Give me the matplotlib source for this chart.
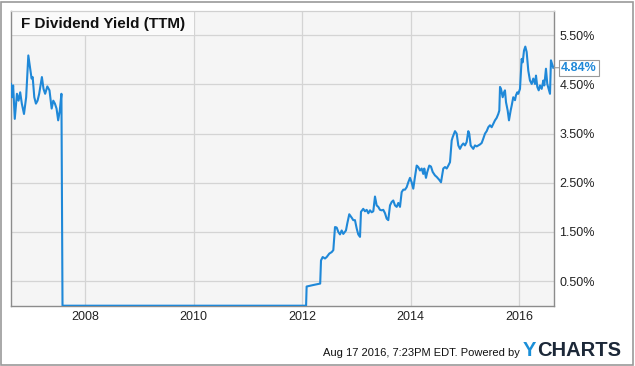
import matplotlib
matplotlib.use("Agg")
import matplotlib.pyplot as plt
from matplotlib.patches import Rectangle

plt.rcParams['font.family'] = ['Liberation Sans', 'DejaVu Sans']

title = "F Dividend Yield (TTM)"
last_label = "4.84%"
footer = "Aug 17 2016, 7:23PM EDT. Powered by"

# decimal years and dividend yield (%)
years = [
    2006.63, 2006.65, 2006.67, 2006.70, 2006.74, 2006.77, 2006.80, 2006.83, 2006.87, 2006.91,
    2006.95, 2006.98, 2007.01, 2007.03, 2007.06, 2007.09, 2007.12, 2007.15, 2007.20, 2007.23,
    2007.26, 2007.30, 2007.34, 2007.38, 2007.41, 2007.44, 2007.47, 2007.50, 2007.53, 2007.56,
    2007.58, 2012.07, 2012.08, 2012.20, 2012.33,
    2012.345, 2012.376, 2012.419, 2012.450, 2012.498, 2012.542, 2012.572, 2012.603, 2012.634, 2012.664,
    2012.695, 2012.726, 2012.756, 2012.805, 2012.829, 2012.866, 2012.911, 2012.940, 2012.971, 2013.003,
    2013.032, 2013.064, 2013.082, 2013.124, 2013.156, 2013.187, 2013.217, 2013.248, 2013.279, 2013.309,
    2013.340, 2013.371, 2013.401, 2013.432, 2013.464, 2013.493, 2013.525, 2013.556, 2013.585, 2013.617,
    2013.648, 2013.677, 2013.709, 2013.740, 2013.770, 2013.801, 2013.832, 2013.862, 2013.893, 2013.924,
    2013.954, 2013.985, 2014.016, 2014.046, 2014.077, 2014.109, 2014.138, 2014.170, 2014.201, 2014.230,
    2014.249, 2014.280, 2014.304, 2014.341, 2014.372, 2014.404, 2014.446, 2014.477, 2014.525, 2014.557,
    2014.599, 2014.631, 2014.662, 2014.692, 2014.723, 2014.754, 2014.773, 2014.815, 2014.846, 2014.876,
    2014.907, 2014.938, 2014.968, 2014.999, 2015.030, 2015.060, 2015.078, 2015.104, 2015.123, 2015.152,
    2015.183, 2015.215, 2015.244, 2015.276, 2015.307, 2015.337, 2015.368, 2015.399, 2015.429, 2015.460,
    2015.491, 2015.521, 2015.552, 2015.583, 2015.613, 2015.632, 2015.645, 2015.663, 2015.694, 2015.718,
    2015.736, 2015.755, 2015.786, 2015.810, 2015.841, 2015.860, 2015.889, 2015.921, 2015.939, 2015.963,
    2015.982, 2016.013, 2016.031, 2016.044, 2016.063, 2016.087, 2016.111, 2016.136, 2016.166, 2016.197,
    2016.229, 2016.258, 2016.290, 2016.308, 2016.332, 2016.358, 2016.382, 2016.413, 2016.443, 2016.461,
    2016.492, 2016.516, 2016.542, 2016.566, 2016.584, 2016.603, 2016.627,
]
yield_pct = [
    4.51, 4.24, 4.48, 3.80, 4.31, 4.17, 4.34, 4.11, 3.90, 4.24,
    5.09, 4.85, 4.62, 4.65, 4.24, 4.11, 4.17, 4.31, 4.65, 4.41,
    4.31, 4.46, 4.38, 4.01, 4.17, 4.11, 4.01, 3.77, 3.97, 4.31,
    0.00, 0.00, 0.39, 0.42, 0.45,
    0.92, 0.99, 0.96, 0.99, 1.06, 1.09, 1.13, 1.60, 1.59, 1.50,
    1.45, 1.53, 1.46, 1.53, 1.67, 1.86, 1.79, 1.74, 1.74, 1.57,
    1.45, 1.40, 1.91, 1.97, 1.92, 1.95, 1.88, 1.94, 1.90, 1.92,
    2.22, 2.04, 2.01, 1.95, 1.94, 1.95, 1.88, 1.77, 1.74, 2.04,
    2.11, 2.14, 2.04, 2.01, 2.09, 2.01, 2.31, 2.36, 2.36, 2.41,
    2.51, 2.60, 2.51, 2.38, 2.62, 2.85, 2.82, 2.75, 2.79, 2.68,
    2.79, 2.60, 2.72, 2.85, 2.83, 2.72, 2.65, 2.62, 2.56, 2.51,
    2.79, 2.82, 2.79, 2.85, 2.92, 3.36, 3.43, 3.55, 3.50, 3.26,
    3.19, 3.26, 3.30, 3.26, 3.33, 3.55, 3.50, 3.26, 3.23, 3.19,
    3.26, 3.24, 3.26, 3.28, 3.31, 3.40, 3.50, 3.55, 3.63, 3.67,
    3.63, 3.70, 3.77, 3.82, 3.90, 3.97, 4.45, 4.41, 4.24, 4.34,
    4.38, 4.14, 3.97, 3.77, 3.97, 4.07, 4.24, 4.18, 4.28, 4.34,
    4.31, 4.41, 4.78, 5.02, 4.95, 5.19, 5.27, 5.16, 4.78, 4.58,
    4.51, 4.62, 4.51, 4.68, 4.45, 4.38, 4.48, 4.41, 4.58, 4.48,
    4.82, 4.51, 4.41, 4.31, 4.99, 4.92, 4.84,
]
x_ticks = [2008, 2010, 2012, 2014, 2016]
y_ticks = [0.5, 1.5, 2.5, 3.5, 4.5, 5.5]

W, H = 635, 366
fig = plt.figure(figsize=(W / 100, H / 100), dpi=100)
fig.patch.set_facecolor('white')

# outer frame
fig.add_artist(Rectangle((1 / W, 1 / H), (W - 3) / W, (H - 3) / H, transform=fig.transFigure,
                         fill=False, edgecolor='#9a9a9a', linewidth=1.2))

left, right, top, bottom = 10.7, 554, 10.7, 305.7
ax = fig.add_axes([left / W, 1 - bottom / H, (right - left) / W, (bottom - top) / H])
ax.set_facecolor('#f5f5f5')
ax.set_xlim(2006.625, 2016.64)
ax.set_ylim(0, 6.0)

ax.plot(years, yield_pct, color='#1f88d8', linewidth=1.5, zorder=3, solid_joinstyle='round')

ax.set_xticks(x_ticks)
ax.set_xticklabels([str(t) for t in x_ticks])
ax.set_yticks(y_ticks)
ax.set_yticklabels(['%.2f%%' % v for v in y_ticks])
ax.yaxis.tick_right()
ax.tick_params(axis='both', length=0, labelsize=9, colors='#222222')
ax.tick_params(axis='y', pad=4)
ax.tick_params(axis='x', pad=4)
ax.grid(True, color='#d4d4d4', linewidth=0.9, zorder=0)
ax.set_axisbelow(True)

for s in ['left', 'bottom', 'right']:
    ax.spines[s].set_color('#8c8c8c')
    ax.spines[s].set_linewidth(1.0)
ax.spines['top'].set_color('#d0d0d0')
ax.spines['top'].set_linewidth(0.9)

# title box
tb_w = (194.3 - left) / (right - left)
tb_h = (35 - top) / (bottom - top)
ax.add_patch(Rectangle((0, 1 - tb_h), tb_w, tb_h, transform=ax.transAxes,
                       facecolor='#fafafa', edgecolor='none', zorder=1.5))
ax.text(10 / (right - left), 1 - (24 - top) / (bottom - top), title, transform=ax.transAxes,
        fontsize=11, fontweight='bold', color='#111111', va='center', ha='left', zorder=4)

# last value label
lv = yield_pct[-1]
ax.annotate(last_label, xy=(1.0, lv), xycoords=('axes fraction', 'data'),
            xytext=(5, 0), textcoords='offset points', ha='left', va='center',
            fontsize=9, fontweight='bold', color='#1f88d8',
            bbox=dict(boxstyle='square,pad=0.15', facecolor='white', edgecolor='#9a9a9a', linewidth=0.8),
            arrowprops=dict(arrowstyle='-', color='#9a9a9a', linewidth=0.8, shrinkA=0, shrinkB=0),
            annotation_clip=False, zorder=5)

# footer
fig.text(520 / W, 1 - 353 / H, footer, ha='right', va='center', fontsize=8, color='#111111')
fig.text(523 / W, 1 - 350 / H, "Y", ha='left', va='center', fontsize=14.5, fontweight='bold', color='#1a8fd8')
fig.text(537 / W, 1 - 350 / H, "CHARTS", ha='left', va='center', fontsize=14.5, fontweight='bold', color='#1c2838')

fig.savefig('out.png', dpi=100, facecolor='white')
